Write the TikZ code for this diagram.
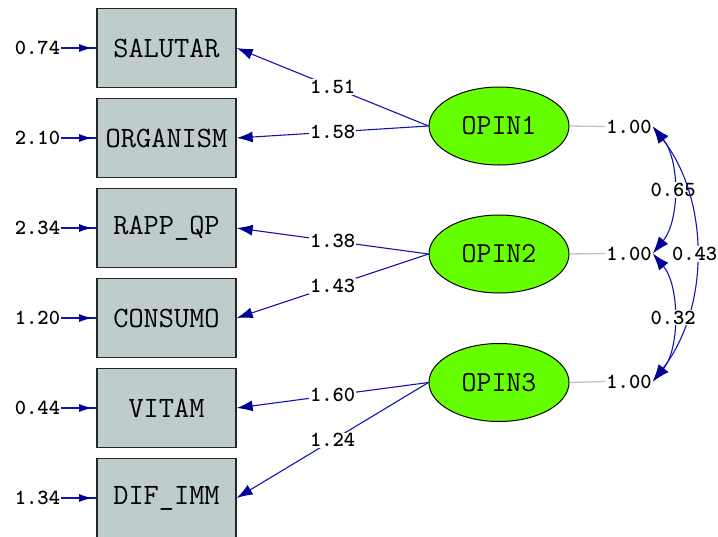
\documentclass[tikz,border=0pt]{standalone}
\usepackage{fontspec}
\usetikzlibrary{arrows.meta,decorations.markings,shapes.geometric}
\definecolor{obsfill}{RGB}{191,204,204}
\definecolor{latfill}{RGB}{102,255,0}
\definecolor{pathblue}{RGB}{20,20,180}
\definecolor{headblue}{RGB}{0,0,150}
\definecolor{varline}{RGB}{185,198,198}
\begin{document}
\begin{tikzpicture}[x=1pt,y=-1pt,
  obs/.style={draw=black!85,line width=1.3pt,fill=obsfill,
    minimum width=139pt,minimum height=79pt,inner sep=0pt,
    font=\ttfamily\fontsize{29.5}{29.5}\selectfont},
  lat/.style={ellipse,draw=black,line width=1pt,fill=latfill,
    minimum width=140pt,minimum height=78pt,inner sep=0pt,
    font=\ttfamily\fontsize{29}{29}\selectfont},
  num/.style={font=\ttfamily\bfseries\fontsize{21.5}{21.5}\selectfont,inner sep=1pt,fill=white},
  numplain/.style={num,fill=none},
  load/.style={draw=pathblue,line width=1.1pt,
    -{Latex[length=16pt,width=11pt,color=headblue]}},
  errarrow/.style={draw=pathblue,line width=1.2pt,postaction={decorate},
    decoration={markings,mark=at position 0.88 with
      {\arrow{Latex[length=13pt,width=8pt,color=headblue]}}}},
  cov/.style={draw=pathblue,line width=1.1pt,
    {Latex[length=17pt,width=12pt,color=headblue]}-{Latex[length=17pt,width=12pt,color=headblue]}},
  var/.style={draw=varline,line width=1.3pt},
]
\clip (0,0) rectangle (718,536);
\fill[white] (0,0) rectangle (718,536);

% observed indicators
\node[obs] (salutar)  at (166.5,48)  {SALUTAR};
\node[obs] (organism) at (166.5,138) {ORGANISM};
\node[obs] (rapp)     at (166.5,228) {RAPP\_QP};
\node[obs] (consumo)  at (166.5,318) {CONSUMO};
\node[obs] (vitam)    at (166.5,408) {VITAM};
\node[obs] (difimm)   at (166.5,498) {DIF\_IMM};

% error variances
\node[numplain] (e1) at (37.5,48)  {0.74};
\node[numplain] (e2) at (37.5,138) {2.10};
\node[numplain] (e3) at (37.5,228) {2.34};
\node[numplain] (e4) at (37.5,318) {1.20};
\node[numplain] (e5) at (37.5,408) {0.44};
\node[numplain] (e6) at (37.5,498) {1.34};
\draw[errarrow] (e1.east) -- (salutar.west);
\draw[errarrow] (e2.east) -- (organism.west);
\draw[errarrow] (e3.east) -- (rapp.west);
\draw[errarrow] (e4.east) -- (consumo.west);
\draw[errarrow] (e5.east) -- (vitam.west);
\draw[errarrow] (e6.east) -- (difimm.west);

% latent factors
\node[lat] (opin1) at (499,126)   {OPIN1};
\node[lat] (opin2) at (499,254)   {OPIN2};
\node[lat] (opin3) at (499,382.5) {OPIN3};

% loadings
\draw[load] (opin1.west) -- node[num] {1.51} (salutar.east);
\draw[load] (opin1.west) -- node[num] {1.58} (organism.east);
\draw[load] (opin2.west) -- node[num] {1.38} (rapp.east);
\draw[load] (opin2.west) -- node[num] {1.43} (consumo.east);
\draw[load] (opin3.west) -- node[num] {1.60} (vitam.east);
\draw[load] (opin3.west) -- node[num] {1.24} (difimm.east);

% factor variances
\node[numplain] (v1) at (629,126.5) {1.00};
\node[numplain] (v2) at (629,253.5) {1.00};
\node[numplain] (v3) at (629,381.5) {1.00};
\draw[var] (opin1.east) -- (v1.west);
\draw[var] (opin2.east) -- (v2.west);
\draw[var] (opin3.east) -- (v3.west);

% factor covariances
\draw[cov] (v1.east) .. controls (680,160) and (680,220) .. node[num] {0.65} (v2.east);
\draw[cov] (v1.east) .. controls (710,200) and (710,308) .. node[num,xshift=-1pt] {0.43} (v3.east);
\draw[cov] (v2.east) .. controls (680,286) and (680,349) .. node[num] {0.32} (v3.east);
\end{tikzpicture}
\end{document}
